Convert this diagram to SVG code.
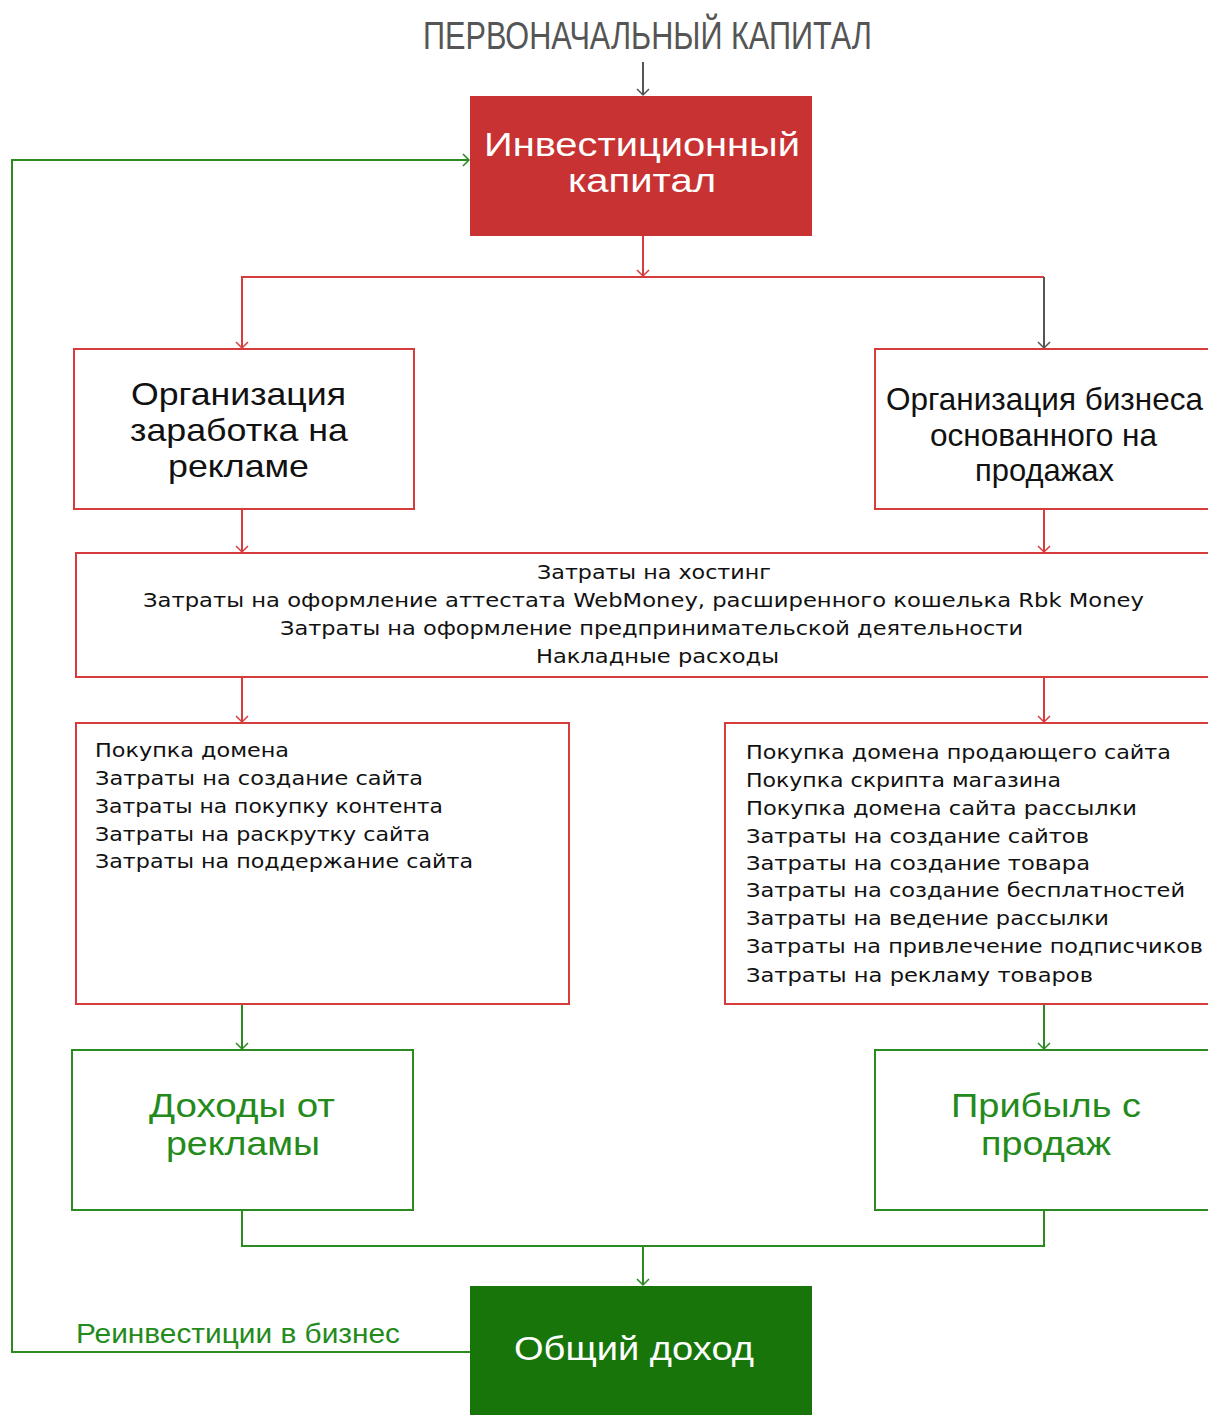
<svg xmlns="http://www.w3.org/2000/svg" width="1208" height="1415" viewBox="0 0 1208 1415">
<style>
  text { font-family: "Liberation Sans", Arial, sans-serif; }
  .redbox { fill: #ffffff; stroke: #d63c3c; stroke-width: 2; }
  .greenbox { fill: #ffffff; stroke: #2b8a20; stroke-width: 2; }
  .red { fill: none; stroke: #d63c3c; stroke-width: 2; }
  .green { fill: none; stroke: #2b8a20; stroke-width: 2; }
  .gray { fill: none; stroke: #555555; stroke-width: 2; }
  .big { font-size: 32px; fill: #111111; }
  .small { font-family: "DejaVu Sans", Verdana, sans-serif; font-size: 19px; fill: #111111; }
  .gtext { font-size: 34px; fill: #238a1b; }
</style>
<defs>
  <marker id="ar" markerUnits="userSpaceOnUse" markerWidth="14" markerHeight="14" refX="7" refY="7" orient="auto">
    <path d="M1,1 L7,7 L1,13" fill="none" stroke="#d63c3c" stroke-width="1.5"/>
  </marker>
  <marker id="ag" markerUnits="userSpaceOnUse" markerWidth="14" markerHeight="14" refX="7" refY="7" orient="auto">
    <path d="M1,1 L7,7 L1,13" fill="none" stroke="#2b8a20" stroke-width="1.5"/>
  </marker>
  <marker id="ak" markerUnits="userSpaceOnUse" markerWidth="14" markerHeight="14" refX="7" refY="7" orient="auto">
    <path d="M1,1 L7,7 L1,13" fill="none" stroke="#555555" stroke-width="1.5"/>
  </marker>
</defs>

<text x="423" y="49" font-size="38" fill="#555555" textLength="449" lengthAdjust="spacingAndGlyphs">ПЕРВОНАЧАЛЬНЫЙ КАПИТАЛ</text>

<g id="connectors">
  <path class="gray" d="M643,62 V95" marker-end="url(#ak)"/>
  <path class="red" d="M643,236 V276" marker-end="url(#ar)"/>
  <path class="red" d="M1044,277 H242 V348" marker-end="url(#ar)"/>
  <path class="gray" d="M1044,277 V348" marker-end="url(#ak)"/>
  <path class="red" d="M242,509 V552" marker-end="url(#ar)"/>
  <path class="red" d="M1044,509 V552" marker-end="url(#ar)"/>
  <path class="red" d="M242,677 V722" marker-end="url(#ar)"/>
  <path class="red" d="M1044,677 V722" marker-end="url(#ar)"/>
  <path class="green" d="M242,1004 V1049" marker-end="url(#ag)"/>
  <path class="green" d="M1044,1004 V1049" marker-end="url(#ag)"/>
  <path class="green" d="M242,1210 V1246 H1044 V1210"/>
  <path class="green" d="M643,1246 V1285" marker-end="url(#ag)"/>
  <path class="green" d="M470,1352 H12 V160 H469" marker-end="url(#ag)"/>
  <text x="76" y="1343" font-size="27" fill="#238a1b" textLength="324" lengthAdjust="spacingAndGlyphs">Реинвестиции в бизнес</text>
</g>

<g id="invest">
  <rect x="470" y="96" width="342" height="140" fill="#c83232"/>
  <text x="484" y="156" font-size="34" fill="#ffffff" textLength="316" lengthAdjust="spacingAndGlyphs">Инвестиционный</text>
  <text x="568" y="192" font-size="34" fill="#ffffff" textLength="148" lengthAdjust="spacingAndGlyphs">капитал</text>
</g>

<g id="ads">
  <rect class="redbox" x="74" y="349" width="340" height="160"/>
  <text class="big" x="131" y="405" textLength="215" lengthAdjust="spacingAndGlyphs">Организация</text>
  <text class="big" x="130" y="441" textLength="218" lengthAdjust="spacingAndGlyphs">заработка на</text>
  <text class="big" x="168" y="477" textLength="141" lengthAdjust="spacingAndGlyphs">рекламе</text>
</g>

<g id="sales">
  <rect class="redbox" x="875" y="349" width="345" height="160"/>
  <text class="big" x="886" y="410" font-size="31" textLength="317" lengthAdjust="spacingAndGlyphs">Организация бизнеса</text>
  <text class="big" x="930" y="446" font-size="31" textLength="227" lengthAdjust="spacingAndGlyphs">основанного на</text>
  <text class="big" x="975" y="481" font-size="31" textLength="139" lengthAdjust="spacingAndGlyphs">продажах</text>
</g>

<g id="costs">
  <rect class="redbox" x="76" y="553" width="1145" height="124"/>
  <text class="small" x="537" y="579" textLength="234" lengthAdjust="spacingAndGlyphs">Затраты на хостинг</text>
  <text class="small" x="143" y="607" textLength="1001" lengthAdjust="spacingAndGlyphs">Затраты на оформление аттестата WebMoney, расширенного кошелька Rbk Money</text>
  <text class="small" x="280" y="635" textLength="743" lengthAdjust="spacingAndGlyphs">Затраты на оформление предпринимательской деятельности</text>
  <text class="small" x="536" y="663" textLength="243" lengthAdjust="spacingAndGlyphs">Накладные расходы</text>
</g>

<g id="ads-costs">
  <rect class="redbox" x="76" y="723" width="493" height="281"/>
  <text class="small" x="95" y="757" textLength="194" lengthAdjust="spacingAndGlyphs">Покупка домена</text>
  <text class="small" x="95" y="785" textLength="328" lengthAdjust="spacingAndGlyphs">Затраты на создание сайта</text>
  <text class="small" x="95" y="813" textLength="348" lengthAdjust="spacingAndGlyphs">Затраты на покупку контента</text>
  <text class="small" x="95" y="841" textLength="335" lengthAdjust="spacingAndGlyphs">Затраты на раскрутку сайта</text>
  <text class="small" x="95" y="868" textLength="378" lengthAdjust="spacingAndGlyphs">Затраты на поддержание сайта</text>
</g>

<g id="sales-costs">
  <rect class="redbox" x="725" y="723" width="495" height="281"/>
  <text class="small" x="746" y="759" textLength="425" lengthAdjust="spacingAndGlyphs">Покупка домена продающего сайта</text>
  <text class="small" x="746" y="787" textLength="315" lengthAdjust="spacingAndGlyphs">Покупка скрипта магазина</text>
  <text class="small" x="746" y="815" textLength="391" lengthAdjust="spacingAndGlyphs">Покупка домена сайта рассылки</text>
  <text class="small" x="746" y="843" textLength="343" lengthAdjust="spacingAndGlyphs">Затраты на создание сайтов</text>
  <text class="small" x="746" y="870" textLength="344" lengthAdjust="spacingAndGlyphs">Затраты на создание товара</text>
  <text class="small" x="746" y="897" textLength="439" lengthAdjust="spacingAndGlyphs">Затраты на создание бесплатностей</text>
  <text class="small" x="746" y="925" textLength="363" lengthAdjust="spacingAndGlyphs">Затраты на ведение рассылки</text>
  <text class="small" x="746" y="953" textLength="457" lengthAdjust="spacingAndGlyphs">Затраты на привлечение подписчиков</text>
  <text class="small" x="746" y="982" textLength="347" lengthAdjust="spacingAndGlyphs">Затраты на рекламу товаров</text>
</g>

<g id="ads-income">
  <rect class="greenbox" x="72" y="1050" width="341" height="160"/>
  <text class="gtext" x="149" y="1117" textLength="186" lengthAdjust="spacingAndGlyphs">Доходы от</text>
  <text class="gtext" x="166" y="1155" textLength="154" lengthAdjust="spacingAndGlyphs">рекламы</text>
</g>

<g id="sales-income">
  <rect class="greenbox" x="875" y="1050" width="345" height="160"/>
  <text class="gtext" x="951" y="1117" textLength="190" lengthAdjust="spacingAndGlyphs">Прибыль с</text>
  <text class="gtext" x="981" y="1155" textLength="130" lengthAdjust="spacingAndGlyphs">продаж</text>
</g>

<g id="total">
  <rect x="470" y="1286" width="342" height="140" fill="#17750a"/>
  <text x="514" y="1360" font-size="33" fill="#ffffff" textLength="240" lengthAdjust="spacingAndGlyphs">Общий доход</text>
</g>
</svg>
